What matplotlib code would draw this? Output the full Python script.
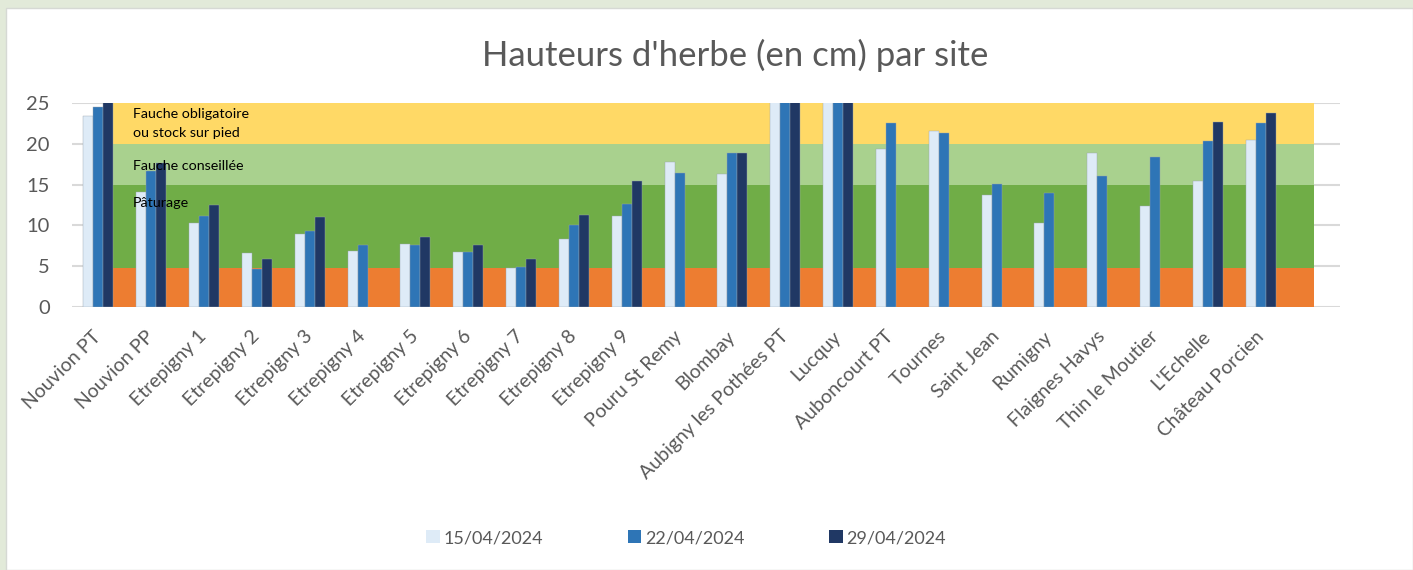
import numpy as np
import matplotlib
matplotlib.use("Agg")
import matplotlib.pyplot as plt
from matplotlib.patches import Patch, Rectangle

plt.rcParams['font.family'] = ['Lato', 'DejaVu Sans']

sites = ["Nouvion PT", "Nouvion PP", "Etrepigny 1", "Etrepigny 2", "Etrepigny 3",
         "Etrepigny 4", "Etrepigny 5", "Etrepigny 6", "Etrepigny 7", "Etrepigny 8",
         "Etrepigny 9", "Pouru St Remy", "Blombay", "Aubigny les Pothées PT", "Lucquy",
         "Auboncourt PT", "Tournes", "Saint Jean", "Rumigny", "Flaignes Havys",
         "Thin le Moutier", "L'Echelle", "Château Porcien"]
nan = np.nan
d_15_04 = [23.4, 14.1, 10.3, 6.6, 9.0, 6.9, 7.7, 6.8, 4.8, 8.3, 11.2, 17.8, 16.3,
           27.0, 26.0, 19.3, 21.5, 13.7, 10.3, 18.9, 12.4, 15.4, 20.5]
d_22_04 = [24.5, 16.6, 11.2, 4.7, 9.3, 7.6, 7.6, 6.8, 4.9, 10.1, 12.6, 16.4, 18.9,
           28.0, 27.0, 22.5, 21.3, 15.1, 14.0, 16.1, 18.4, 20.3, 22.5]
d_29_04 = [25.5, 17.6, 12.5, 5.9, 11.0, nan, 8.6, 7.6, 5.9, 11.3, 15.4, nan, 18.9,
           29.0, 28.0, nan, nan, nan, nan, nan, nan, 22.6, 23.7]
series_labels = ["15/04/2024", "22/04/2024", "29/04/2024"]
series_colors = ["#DEEBF7", "#2E75B6", "#203864"]

zone_bounds = [0, 4.8, 15, 20, 25]
zone_colors = ["#ED7D31", "#70AD47", "#A9D18E", "#FFD966"]
zone_texts = ["Fauche obligatoire\nou stock sur pied", "Fauche conseillée", "Pâturage"]
zone_text_y = [22.45, 17.3, 12.7]

W, H = 1413, 570
fig = plt.figure(figsize=(W / 100, H / 100), dpi=100, facecolor="#E2EAD9")
fig.patches.append(Rectangle((6 / W, 0), 1 - 6 / W, 1 - 8 / H, transform=fig.transFigure,
                             facecolor="white", edgecolor="#D6D9D4", lw=1, zorder=-5))

ax = fig.add_axes([72 / W, 1 - 307.3 / H, (1340 - 72) / W, (307.3 - 102.7) / H])
ax.set_facecolor("none")
ax.set_zorder(2)

x = np.arange(len(sites))
bw = 0.19
# background zones
for lo, hi, c in zip(zone_bounds[:-1], zone_bounds[1:], zone_colors):
    ax.add_patch(Rectangle((0.28, lo), 23.0 - 0.28, hi - lo, facecolor=c, edgecolor="none", zorder=1))

for i, (vals, col, lab) in enumerate(zip([d_15_04, d_22_04, d_29_04], series_colors, series_labels)):
    ax.bar(x + (i - 1) * bw, vals, width=bw, color=col, edgecolor="#9AA5B1", linewidth=0.3,
           zorder=2, label=lab)

for t, yy in zip(zone_texts, zone_text_y):
    ax.text(0.655, yy, t, fontsize=10.3, color="black", ha="left", va="center",
            linespacing=1.75, zorder=3)

ax.set_xlim(-0.5, 23.5)
ax.set_ylim(0, 25)
ax.set_yticks([0, 5, 10, 15, 20, 25])
ax.grid(axis="y", color="#D9D9D9", lw=1.5, zorder=0)
ax.set_axisbelow(True)
for s in ax.spines.values():
    s.set_visible(False)
ax.tick_params(axis="y", length=0, pad=16, labelsize=14.5, labelcolor="#595959")
ax.tick_params(axis="x", length=0, pad=19, labelsize=14, labelcolor="#595959")
ax.set_xticks(x)
ax.set_xticklabels(sites, rotation=45, ha="right", va="center", rotation_mode="anchor")

fig.text(735 / W, 1 - 55 / H, "Hauteurs d'herbe (en cm) par site", ha="center", va="center",
         fontsize=25, color="#595959")

handles = [Patch(facecolor=c, edgecolor="none") for c in series_colors]
leg = fig.legend(handles, series_labels, loc="center", bbox_to_anchor=(686 / W, 1 - 538 / H),
                 ncol=3, frameon=False, fontsize=13, handlelength=0.75, handleheight=0.75,
                 handletextpad=0.2, columnspacing=4.7, labelcolor="#595959")

fig.savefig("out.png", dpi=100, facecolor=fig.get_facecolor())
